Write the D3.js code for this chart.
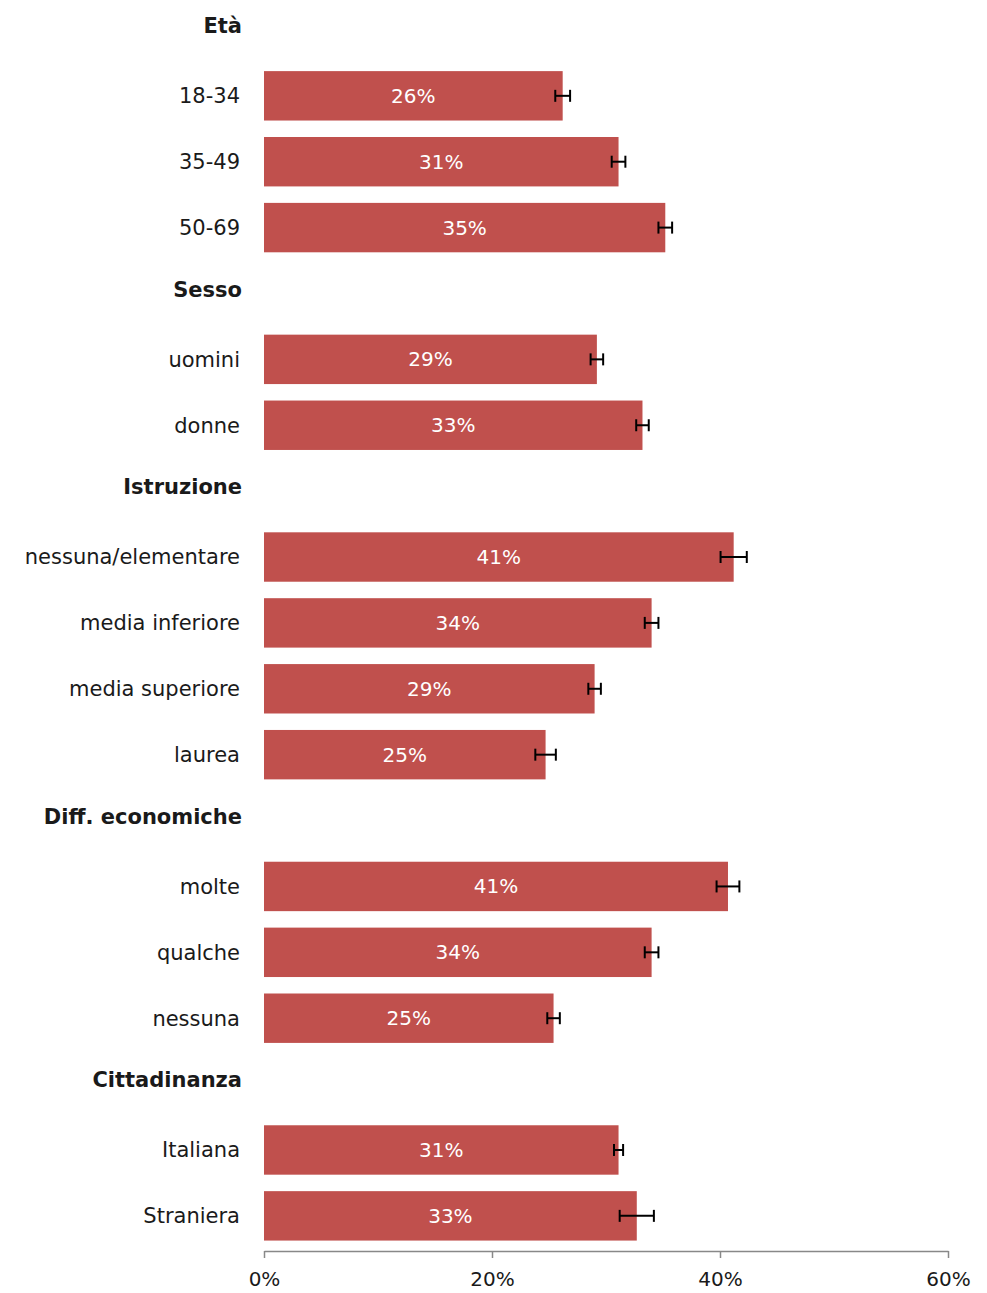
<!DOCTYPE html>
<html>
<head>
<meta charset="utf-8">
<script src="https://cdn.jsdelivr.net/npm/d3@7"></script>
<style>
  body { margin: 0; background: #fff; }
  text { font-family: "DejaVu Sans", sans-serif; }
</style>
</head>
<body>
<script>
// rows of the chart, top to bottom (headers have no value)
const rows = ["Età", "18-34", "35-49", "50-69",
  "Sesso", "uomini", "donne",
  "Istruzione", "nessuna/elementare", "media inferiore", "media superiore", "laurea",
  "Diff. economiche", "molte", "qualche", "nessuna ",
  "Cittadinanza", "Italiana", "Straniera"];
const headers = ["Età", "Sesso", "Istruzione", "Diff. economiche", "Cittadinanza"];

const categories = ["18-34", "35-49", "50-69", "uomini", "donne",
  "nessuna/elementare", "media inferiore", "media superiore", "laurea",
  "molte", "qualche", "nessuna ", "Italiana", "Straniera"];
const values = [0.262, 0.311, 0.352, 0.292, 0.332, 0.412, 0.340, 0.290, 0.247, 0.407, 0.340, 0.254, 0.311, 0.327];
const errors = [0.0065, 0.006, 0.006, 0.0055, 0.0055, 0.0115, 0.006, 0.0055, 0.009, 0.010, 0.006, 0.0055, 0.004, 0.015];
const labels = ["26%", "31%", "35%", "29%", "33%", "41%", "34%", "29%", "25%", "41%", "34%", "25%", "31%", "33%"];
const ticks = [0, 0.2, 0.4, 0.6];

const width = 987;
const height = 1293;

const svg = d3.select('body')
  .append('svg')
  .attr('width', width)
  .attr('height', height);

const x = d3.scaleLinear().domain([0, 0.6]).range([264, 948]);
const y = d3.scaleBand().domain(rows).range([-3, 1248.8])
  .paddingInner(0.25).paddingOuter(0.125);

const data = categories.map((c, i) => ({ name: c, value: values[i], err: errors[i], label: labels[i] }));

// row labels (headers sit a little higher than their slot)
svg.selectAll('text.row')
  .data(rows)
  .enter()
  .append('text')
  .attr('x', d => headers.includes(d) ? 242 : 240)
  .attr('y', d => y(d) + y.bandwidth() / 2 - (headers.includes(d) ? 4 : 0))
  .attr('dy', '0.35em')
  .attr('text-anchor', 'end')
  .attr('font-size', 21)
  .attr('font-weight', d => headers.includes(d) ? 'bold' : 'normal')
  .attr('fill', '#1a1a1a')
  .text(d => d.trim());

// bars
svg.selectAll('rect.bar')
  .data(data)
  .enter()
  .append('rect')
  .attr('x', x(0))
  .attr('y', d => y(d.name))
  .attr('width', d => x(d.value) - x(0))
  .attr('height', y.bandwidth())
  .attr('fill', '#C0504D');

// value labels
svg.selectAll('text.val')
  .data(data)
  .enter()
  .append('text')
  .attr('x', d => (x(0) + x(d.value)) / 2)
  .attr('y', d => y(d.name) + y.bandwidth() / 2)
  .attr('dy', '0.35em')
  .attr('text-anchor', 'middle')
  .attr('font-size', 20)
  .attr('fill', '#fff')
  .text(d => d.label);

// error bars
const eb = svg.selectAll('g.err')
  .data(data)
  .enter()
  .append('g')
  .attr('stroke', '#000')
  .attr('stroke-width', 2);

eb.append('line')
  .attr('x1', d => x(d.value - d.err))
  .attr('x2', d => x(d.value + d.err))
  .attr('y1', d => y(d.name) + y.bandwidth() / 2)
  .attr('y2', d => y(d.name) + y.bandwidth() / 2);

[-1, 1].forEach(s => {
  eb.append('line')
    .attr('x1', d => x(d.value + s * d.err))
    .attr('x2', d => x(d.value + s * d.err))
    .attr('y1', d => y(d.name) + y.bandwidth() / 2 - 6)
    .attr('y2', d => y(d.name) + y.bandwidth() / 2 + 6);
});

// x axis
const axis = svg.append('g')
  .attr('transform', 'translate(0,1251)')
  .call(d3.axisBottom(x).tickValues(ticks).tickFormat(d3.format('.0%')).tickSize(7).tickSizeOuter(0));

axis.select('.domain').attr('stroke', '#888').attr('stroke-width', 1.5);
axis.selectAll('.tick line').attr('stroke', '#888').attr('stroke-width', 1.5);
axis.selectAll('.tick text')
  .attr('font-size', 20)
  .attr('fill', '#1a1a1a')
  .attr('y', 28)
  .attr('dy', '0.35em')
  .style('font-family', '"DejaVu Sans", sans-serif');
</script>
</body>
</html>
